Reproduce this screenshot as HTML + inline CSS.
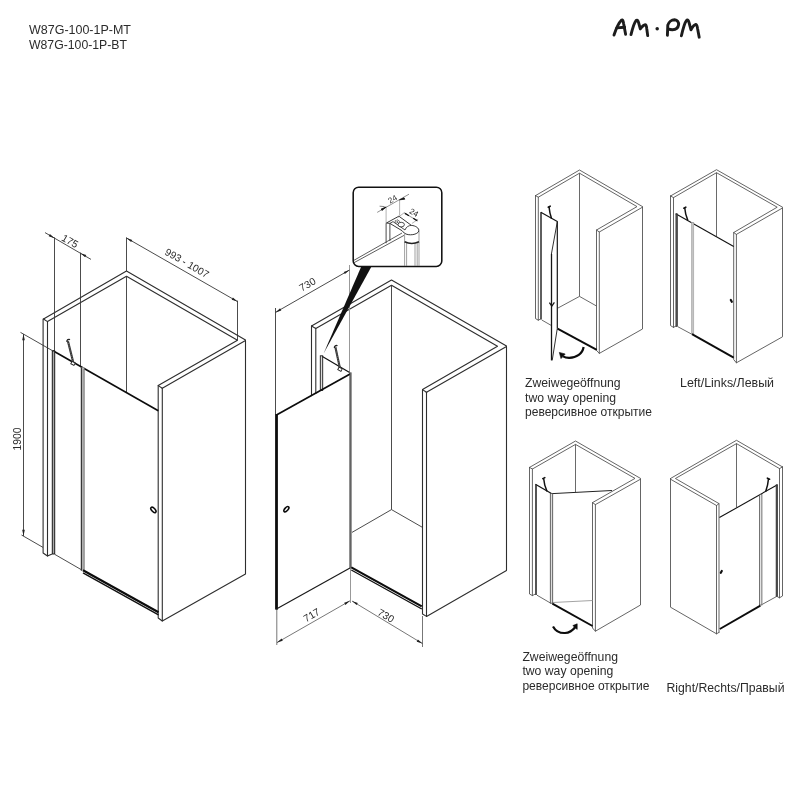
<!DOCTYPE html>
<html><head><meta charset="utf-8">
<style>
html,body{margin:0;padding:0;background:#fff;}
body{width:800px;height:800px;overflow:hidden;position:relative;font-family:"Liberation Sans",sans-serif;}
svg{position:absolute;left:0;top:0;will-change:transform;opacity:0.999;}
text{font-family:"Liberation Sans",sans-serif;fill:#2b2b2b;}
.l{stroke:#383838;stroke-width:0.9;fill:none;stroke-linecap:round;stroke-linejoin:round;}
#s1 .l,#s2 .l,#s3 .l,#s4 .l{stroke:#505050;stroke-width:0.88;}
#d1 .l,#d2 .l{stroke:#2e2e2e;stroke-width:1.1;}
#d1 .t,#d2 .t{stroke:#383838;stroke-width:0.9;}
.t{stroke:#444;stroke-width:0.8;fill:none;}
.g{stroke:#999;stroke-width:1;fill:none;}
.k{stroke:#0c0c0c;stroke-width:2.2;fill:none;stroke-linecap:butt;}
.d{stroke:#333;stroke-width:0.88;fill:none;}
.d2{stroke:#4a4a4a;stroke-width:0.75;fill:none;}
.k2{stroke:#0c0c0c;stroke-width:1.9;fill:none;stroke-linecap:butt;}
.p{stroke:#222;stroke-width:0.9;fill:#fff;}
.a{fill:#222;stroke:none;}
</style></head><body>
<svg width="800" height="800" viewBox="0 0 800 800">
<!-- header text -->
<text x="29" y="34" font-size="12" textLength="102" lengthAdjust="spacingAndGlyphs">W87G-100-1P-MT</text>
<text x="29" y="49.2" font-size="12" textLength="98" lengthAdjust="spacingAndGlyphs">W87G-100-1P-BT</text>
<!-- logo -->
<g fill="none" stroke="#1c1c1c" stroke-width="2.9" stroke-linecap="round" stroke-linejoin="round">
<path d="M614 35 C615.8 29.5 619 22.5 621.4 20.2 C622.6 19.2 623.2 21 623.6 23.5 L625.6 34.2"/>
<path d="M616.8 27.9 L624.6 27.3"/>
<path d="M631 34.6 C632.4 29 634.4 22.5 636 20.6 C637.4 19.2 638.2 21.2 638.8 23.4 L640.3 28.9 C641.6 27.2 643.6 25 645.2 24.8 C646.4 24.8 646.6 27 646.8 29 L647.7 35.6"/>
<path d="M667.4 35.4 L667.8 25.2 C668.6 22.2 671.6 19.8 674.6 19.8 C677.4 20 678.8 22.4 678.6 24.8 C678.2 27.6 675.6 29.6 672.4 29.8 C670.8 29.8 669.4 29.4 668.4 28.8"/>
<path d="M681.4 35.8 C682.8 29.6 684.8 22.6 686.4 20.6 C687.8 19 688.6 20.8 689.2 23.2 L691 29.8 C692.2 27.6 694.2 24.8 695.8 24.4 C697 24.4 697.2 26.4 697.6 28.8 L699.2 37.2"/>
</g>
<circle cx="657.2" cy="28.8" r="1.75" fill="#1c1c1c"/>
<!-- DRAWING 1 -->
<g id="d1">
<!-- walls top -->
<path class="l" d="M43.5 319 L126.5 271 L245.5 340"/>
<path class="l" d="M43.5 319 L47.5 321.6 L126.5 276.2 L237.5 340.2 L158.2 385.6 L162.3 388.2 L245.5 340.6"/>
<!-- wall verticals -->
<path class="l" d="M43.1 319 V553 L47.5 556"/>
<path class="l" d="M47.5 321.6 V556 L51.5 554.2"/>
<path class="t" d="M126.5 276.2 V392"/>
<path class="l" d="M158.2 385.6 V618 L162.3 621 L245.5 574 V340.6"/>
<path class="l" d="M162.3 388.2 V621"/>
<!-- dim ext -->
<path class="d" d="M54.5 237.4 V351 M80.5 252.6 V367"/>
<path class="d" d="M45 232.6 L91 259.4"/>
<path class="a" d="M54.5 238.2 L48.7 236.3 L49.9 234.1 Z M80.5 253.2 L85.1 257.3 L86.3 255.1 Z"/>
<path class="d" d="M126.5 237.4 V271 M237.5 300.6 V340"/>
<path class="d" d="M126.5 238 L237.5 301.6"/>
<path class="a" d="M126.5 238 L131.1 242.1 L132.3 239.9 Z M237.5 301.6 L231.7 299.7 L232.9 297.5 Z"/>
<path class="d" d="M23.5 334 V536 M20.5 332.4 L53 351 M21.5 535 L43 547.4"/>
<path class="a" d="M23.5 334 L24.8 340.2 L22.2 340.2 Z M23.5 536 L24.8 529.8 L22.2 529.8 Z"/>
<!-- door -->
<path d="M53 350.8 L158.3 410.8" stroke="#0c0c0c" stroke-width="1.6" fill="none"/>
<rect x="52.3" y="351" width="2.4" height="203" fill="#aaa" stroke="#1a1a1a" stroke-width="1"/>
<rect x="81" y="367.3" width="3.4" height="203.4" fill="#b0b0b0"/><path d="M81.3 367.3 V570.7" stroke="#1a1a1a" stroke-width="1" fill="none"/><path d="M84.2 369 V570.7" stroke="#555" stroke-width="0.6" fill="none"/>
<path class="t" d="M55 554.5 L81 569.5"/>
<path class="k" d="M83 570.2 L158.5 612.2" stroke-width="2.2"/>
<path d="M83 572.9 L158.5 614.9" stroke="#111" stroke-width="1.4" fill="none"/>
<ellipse cx="153.4" cy="509.9" rx="1.7" ry="3.3" transform="rotate(-43 153.4 509.9)" fill="#fff" stroke="#0c0c0c" stroke-width="1.6"/>
<!-- arm -->
<path d="M67.9 341 L73.3 362.4" stroke="#333" stroke-width="2.1" fill="none"/>
<path d="M67.9 341 L73.3 362.4" stroke="#999" stroke-width="0.6" stroke-dasharray="1 1.2" fill="none"/>
<path d="M66.9 341.8 C66.6 339.8 68.6 338.8 70 339.6" stroke="#222" stroke-width="1.3" fill="none"/>
<rect x="71.2" y="362" width="3.6" height="2.8" transform="rotate(28 73 363.4)" fill="#fff" stroke="#222" stroke-width="0.9"/>
<!-- dim text -->
<text font-size="10.2" text-anchor="middle" transform="translate(70 241) rotate(30)" y="3.6">175</text>
<text font-size="10.2" text-anchor="middle" transform="translate(187 263) rotate(30)" y="3.6">993 - 1007</text>
<text font-size="10.3" text-anchor="middle" transform="translate(17.8 439) rotate(-90)" y="3.6">1900</text>
</g>
<!-- DRAWING 2 -->
<g id="d2">
<!-- walls top -->
<path class="l" d="M311.5 326 L391.5 280 L506.5 346"/>
<path class="l" d="M311.5 326 L315.8 328.4 L391.5 285.2 L497.5 346.2 L422.5 389.6 L426.5 392.2 L506.5 346.6"/>
<!-- verticals -->
<path class="l" d="M311.5 326 V395.6 M315.8 328.4 V393.4"/>
<path class="t" d="M391.5 285.2 V509.6 L352 532.4 M391.5 509.6 L422.5 527.4"/>
<path class="l" d="M422.5 389.6 V614 L426.5 616.4 L506.5 570.4 V346.6"/>
<path class="l" d="M426.5 392.2 V616.4"/>
<!-- dims -->
<path class="d" d="M275.5 308 V415"/><path class="d2" d="M276.8 609 V645"/>
<path class="g" d="M349.5 265 V372 M350.5 568 V603"/>
<path class="d2" d="M422.5 616 V647"/>
<path class="d" d="M275.5 312.4 L349.5 270"/>
<path class="a" d="M275.5 312.4 L281.3 310.5 L280.1 308.3 Z M349.5 270 L344.9 274.1 L343.7 271.9 Z"/>
<path class="d2" d="M277 642.6 L350 600.8 M352 601 L422.5 643.6"/>
<path class="a" d="M277 642.6 L282.8 640.7 L281.6 638.5 Z M350 600.8 L345.4 604.9 L344.2 602.7 Z M352 601 L356.6 605.1 L357.8 602.9 Z M422.5 643.6 L416.7 641.7 L417.9 639.5 Z"/>
<!-- fixed panel -->
<rect x="320.3" y="355.8" width="2.4" height="34.6" fill="#ddd" stroke="#1a1a1a" stroke-width="0.9"/>
<path d="M322.4 356.4 L349.6 372.6" stroke="#111" stroke-width="1.15" fill="none"/>
<!-- door -->
<path d="M351 373.4 L276 415.2" stroke="#0c0c0c" stroke-width="1.7" fill="none"/>
<path d="M276.5 414.4 V609.6" stroke="#0c0c0c" stroke-width="2.8" fill="none"/>
<path d="M276.4 609 L350 568" stroke="#1a1a1a" stroke-width="1.2" fill="none"/>
<rect x="349.8" y="372.4" width="2.2" height="195.6" fill="#9a9a9a"/><path d="M350 372.4 V568" stroke="#222" stroke-width="0.9" fill="none"/>
<path class="k" d="M351.3 567.4 L421.8 606.4" stroke-width="2.2"/>
<path d="M351.3 570 L421.8 609" stroke="#111" stroke-width="1.4" fill="none"/>
<ellipse cx="286.4" cy="509.2" rx="1.6" ry="3.2" transform="rotate(43 286.4 509.2)" fill="#fff" stroke="#0c0c0c" stroke-width="1.6"/>
<!-- arm -->
<path d="M335.4 347.2 L340 368.4" stroke="#333" stroke-width="2.1" fill="none"/>
<path d="M335.4 347.2 L340 368.4" stroke="#999" stroke-width="0.6" stroke-dasharray="1 1.2" fill="none"/>
<path d="M334.4 348 C334.1 346 336.1 345 337.5 345.8" stroke="#222" stroke-width="1.3" fill="none"/>
<rect x="338.2" y="367.8" width="3.6" height="2.8" transform="rotate(28 340 369.2)" fill="#fff" stroke="#222" stroke-width="0.9"/>
<!-- wedge & box -->
<path d="M361.5 266 L371.8 266 L323.6 353.6 Z" fill="#111"/>
<rect x="353.2" y="187.2" width="88.6" height="79.2" rx="5.5" ry="5.5" fill="#fff" stroke="#111" stroke-width="1.55"/>
<g id="det">
<!-- wall profile -->
<path class="t" d="M386.1 223.2 V243.2 M389.9 223.6 V241"/>
<!-- glass -->
<path d="M353.8 260.4 L402 233 M353.8 262.8 L404 235.4" stroke="#333" stroke-width="0.8" fill="none"/>
<!-- tube -->
<path d="M404.6 234 V266 M406.6 243 V266 M415 243 V266 M417.2 243 V266 M419 231 V266" stroke="#777" stroke-width="0.7" fill="none"/>
<path d="M404.6 241.8 Q411.8 245.2 419 241.8" stroke="#222" stroke-width="1.6" fill="none"/>
<!-- bracket plate -->
<path d="M386.4 223 L398.9 216.2 L411.4 225.4 C415.5 225.6 419.4 228.2 418.8 231 C418 234.6 408.5 236.4 404.2 233 L402.2 230.8 L389.9 223.4 Z" fill="#fff" stroke="#222" stroke-width="0.9" stroke-linejoin="round"/>
<path d="M389.9 223.4 L393 221.6 L405 230 C406 226.8 409 225.4 411.4 225.4" fill="none" stroke="#222" stroke-width="0.8"/>
<path d="M394.8 220.4 L398.6 223 M396.8 219.4 L400.2 221.8" fill="none" stroke="#333" stroke-width="0.7"/>
<ellipse cx="401.2" cy="224.6" rx="3.2" ry="2.3" fill="#fff" stroke="#222" stroke-width="0.8"/>
<ellipse cx="396.3" cy="222" rx="1.4" ry="1.1" fill="#fff" stroke="#333" stroke-width="0.6"/>
<!-- dims -->
<path d="M386.1 207 V223 M399.6 199.8 V215.6 M398.1 217.4 L404.6 212.4 M412 223.4 L418.2 219.2" stroke="#666" stroke-width="0.5" fill="none"/>
<path d="M377.2 212.4 L409 194.2 M404.1 212.9 L418 221.1" stroke="#444" stroke-width="0.6" fill="none"/>
<path d="M386.1 207 L382 210.4 L381.2 209 Z M399.6 199.8 L404 197.8 L404.8 199.2 Z" fill="#111" stroke="#111" stroke-width="0.8"/>
<path d="M405 213.4 L409 215.8 M413.2 218.2 L417 220.6" stroke="#111" stroke-width="1.3" fill="none"/>
<path d="M379.6 206.2 L384.6 206.6" stroke="#333" stroke-width="0.6" fill="none"/>
<text font-size="8" fill="#444" text-anchor="middle" transform="translate(392.6 199.2) rotate(-30)" y="2.6">24</text>
<text font-size="8" fill="#444" text-anchor="middle" transform="translate(413.9 212.8) rotate(30)" y="2.6">24</text>
</g>

<!-- text -->
<text font-size="10.2" text-anchor="middle" transform="translate(307.4 284.4) rotate(-30)" y="3.6">730</text>
<text font-size="10.2" text-anchor="middle" transform="translate(311.6 615) rotate(-30)" y="3.6">717</text>
<text font-size="10.2" text-anchor="middle" transform="translate(386 615.6) rotate(30)" y="3.6">730</text>
</g>
<!-- SMALL -->
<g id="s1">
<path class="l" d="M535.5 195.6 L579.5 170 L642.5 206.6"/>
<path class="l" d="M535.5 195.6 L538.3 197.2 L579.5 173.2 L637 206.6 L596.5 230 L599.3 232 L642.5 207.2"/>
<path class="l" d="M535.5 195.6 V318.6 L538.3 320.2 L540.2 319.2 M538.3 197.2 V320.2"/>
<path class="t" d="M579.5 173.2 V296.4 L558 308 M579.5 296.4 L596.5 306"/>
<path class="l" d="M596.5 230 V350.4 L599.3 353.4 L642.5 329 V207.2 M599.3 232 V353.4"/>
<path d="M541 212.2 V319.6" stroke="#2a2a2a" stroke-width="1.5" fill="none"/>
<path d="M540.8 212.2 L557.3 221.6 V328.4" stroke="#151515" stroke-width="1.2" fill="none" stroke-linejoin="round"/>
<path class="t" d="M541.8 320 L551.2 325.4"/>
<path d="M557.3 221.8 L551.4 254 M552.2 360.4 L557.3 328.4" stroke="#1a1a1a" stroke-width="0.9" fill="none"/>
<path d="M551.5 254 V360.4" stroke="#151515" stroke-width="1.3" fill="none"/>
<path d="M549.4 302.6 L551.8 306.2 L554.4 302.4" stroke="#151515" stroke-width="1.2" fill="none"/>
<path class="k2" d="M557.5 328.6 L596.8 349.8"/>
<path d="M583.6 347 C582.6 353.6 576.6 357.9 569 357.8 C566.6 357.8 564.6 357.3 563 356.4" stroke="#0c0c0c" stroke-width="2.2" fill="none"/>
<path d="M559.3 352.4 L561 358.6 L565.2 354 Z" fill="#0c0c0c" stroke="#0c0c0c" stroke-width="0.6" stroke-linejoin="round"/>
<path d="M549 206.8 Q549.6 213 551.6 218.8" stroke="#111" stroke-width="1.5" fill="none"/>
<path d="M548.2 207.2 L550.2 206.2" stroke="#111" stroke-width="1.6" fill="none" stroke-linecap="round"/>
</g>
<g id="s2">
<path class="l" d="M670.5 196 L716.5 169.7 L782.5 207.2"/>
<path class="l" d="M670.5 196 L673.5 197.6 L716.5 172.7 L777.2 207.2 L733.7 232.5 L736.4 234.4 L782.5 208"/>
<path class="l" d="M670.5 196 V325.6 L673.5 327.4 L675.6 326.2 M673.5 197.6 V327.4"/>
<path class="t" d="M716.5 172.7 V236.6"/>
<path class="l" d="M733.7 232.5 V359.6 L736.4 362.8 L782.5 336.8 V208 M736.4 234.4 V362.8"/>
<path d="M675.7 213.8 L733.7 246.6" stroke="#111" stroke-width="1.1" fill="none"/>
<rect x="675.9" y="213.8" width="1.5" height="112.8" fill="#555" stroke="#333" stroke-width="0.7"/>
<rect x="691.4" y="222.6" width="2.4" height="111.4" fill="#c4c4c4" stroke="#9a9a9a" stroke-width="0.5"/>
<path class="t" d="M678 326.8 L691.4 334"/>
<path class="k2" d="M692 334.2 L733.7 357.6"/>
<path d="M730.8 300 L731.8 301.8" stroke="#111" stroke-width="2.2" fill="none" stroke-linecap="round"/>
<path d="M684.7 207.8 Q685.2 214 687.8 220.4" stroke="#111" stroke-width="1.5" fill="none"/>
<path d="M683.8 208.2 L685.8 207.2" stroke="#111" stroke-width="1.6" fill="none" stroke-linecap="round"/>
</g>
<g id="s3">
<path class="l" d="M529.5 467.4 L575.5 441 L640.5 478.4"/>
<path class="l" d="M529.5 467.4 L532.4 469 L575.5 444.4 L635 478.4 L592.5 502.6 L595.4 504.6 L640.5 479.2"/>
<path class="l" d="M529.5 467.4 V594 L532.4 595.6 L534.6 594.4 M532.4 469 V595.6"/>
<path class="t" d="M575.5 444.4 V492"/>
<path class="l" d="M592.5 502.6 V628 L595.4 631.2 L640.5 605 V479.2 M595.4 504.6 V631.2"/>
<path d="M535.4 484.2 L551.4 493.6" stroke="#151515" stroke-width="1.2" fill="none"/>
<path d="M552.4 493.6 L612 490.5" stroke="#222" stroke-width="1" fill="none"/>
<path d="M553 602.5 L592.5 600.5" stroke="#999" stroke-width="0.9" fill="none"/>
<path d="M536 484.2 V595" stroke="#2a2a2a" stroke-width="1.6" fill="none"/>
<rect x="550.3" y="493.4" width="2.4" height="109.8" fill="#ddd" stroke="#444" stroke-width="0.8"/>
<path class="t" d="M537 595.2 L550.4 603"/>
<path class="k2" d="M552.4 603.6 L592.5 626"/>
<path d="M553 626.4 C555.6 631.2 560.2 633.2 565 633 C569.6 632.8 573 630 575.4 627" stroke="#0c0c0c" stroke-width="2.2" fill="none"/>
<path d="M577.2 623.8 L572.8 625.6 L577.2 629.4 Z" fill="#0c0c0c" stroke="#0c0c0c" stroke-width="0.6" stroke-linejoin="round"/>
<path d="M543.6 478.2 Q544.2 485 547 491.4" stroke="#111" stroke-width="1.5" fill="none"/>
<path d="M542.8 478.6 L544.8 477.6" stroke="#111" stroke-width="1.6" fill="none" stroke-linecap="round"/>
</g>
<g id="s4">
<path class="l" d="M670.5 478.5 L736.5 440.3 L782.5 466.9"/>
<path class="l" d="M782.5 466.9 L779.5 468.6 L736.5 443.6 L675.4 478.5 L719 503.6 L716.5 505.5 L670.5 479.2"/>
<path class="l" d="M670.5 478.5 V607.2 L716.5 633.8 L719 632.4 M716.5 505.5 V633.8 M719 503.6 V632.4"/>
<path class="t" d="M736.5 443.6 V507.4"/>
<path class="l" d="M779.5 468.6 V597.8 M782.5 466.9 V596 L779.5 597.8 L777.6 596.8"/>
<path d="M719.4 517.6 L777.5 484.7" stroke="#111" stroke-width="1.1" fill="none"/>
<rect x="759.5" y="494.6" width="2.4" height="110.4" fill="#e4e4e4" stroke="#555" stroke-width="0.8"/>
<rect x="776.1" y="484.8" width="1.5" height="111.8" fill="#444" stroke="#333" stroke-width="0.7"/>
<path class="t" d="M762.2 604.4 L776.4 596.6"/>
<path class="k2" d="M719.8 629 L760.4 605.6"/>
<path d="M721.8 571 L720.8 572.8" stroke="#111" stroke-width="2.2" fill="none" stroke-linecap="round"/>
<path d="M768.5 478.8 Q768 485 765.7 491.6" stroke="#111" stroke-width="1.5" fill="none"/>
<path d="M767.4 478.2 L769.6 479.2" stroke="#111" stroke-width="1.6" fill="none" stroke-linecap="round"/>
</g>
<g id="txt" font-size="12" fill="#333">
<text x="525" y="387" textLength="95.6" lengthAdjust="spacingAndGlyphs">Zweiwegeöffnung</text>
<text x="525" y="401.5" textLength="91" lengthAdjust="spacingAndGlyphs">two way opening</text>
<text x="525" y="415.8" textLength="127" lengthAdjust="spacingAndGlyphs">реверсивное открытие</text>
<text x="680" y="386.6" textLength="94" lengthAdjust="spacingAndGlyphs">Left/Links/Левый</text>
<text x="522.4" y="660.6" textLength="95.6" lengthAdjust="spacingAndGlyphs">Zweiwegeöffnung</text>
<text x="522.4" y="675" textLength="91" lengthAdjust="spacingAndGlyphs">two way opening</text>
<text x="522.4" y="689.6" textLength="127" lengthAdjust="spacingAndGlyphs">реверсивное открытие</text>
<text x="666.5" y="691.6" textLength="118" lengthAdjust="spacingAndGlyphs">Right/Rechts/Правый</text>
</g>
</svg>
</body></html>
